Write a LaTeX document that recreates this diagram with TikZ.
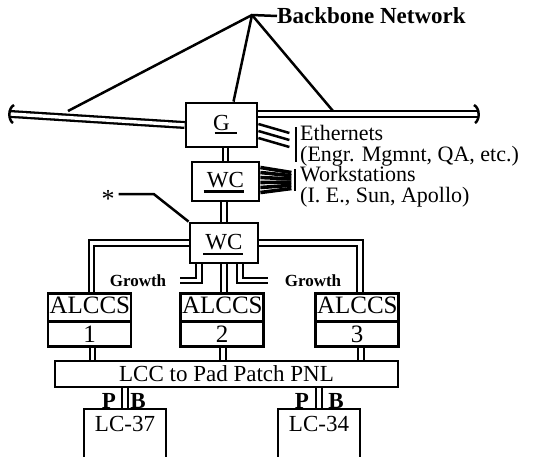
\documentclass[tikz,border=0pt]{standalone}
\usepackage{fontspec}
\setmainfont{Liberation Serif}
\usetikzlibrary{shapes,positioning}

\begin{document}
\begin{tikzpicture}[x=1pt,y=-1pt,
every node/.style={font=\fontsize{23}{20}\selectfont, inner sep=0pt},
unitbox/.style={draw, line width=2.8pt},
alccsbox/.style={unitbox, rectangle split, rectangle split parts=2, minimum width=83, text width=80, align=center, text height=16, text depth=3, inner ysep=3, font=\fontsize{25}{20}\selectfont},
lcbox/.style={unitbox, minimum width=82, text height=19, text depth=45, inner ysep=3},
link/.style={double, line width=2.1pt, double distance=3.2pt},
wire/.style={line width=2.5pt},
uline/.style={line width=2.8pt},
sidetext/.style={font=\fontsize{22}{21}\selectfont, anchor=north west, align=left},
tag/.style={font=\fontsize{23}{20}\selectfont\bfseries},
growthtag/.style={font=\fontsize{17}{17}\selectfont\bfseries},
]
\useasboundingbox (0,0) rectangle (535,456);
\clip (0,0) rectangle (535,456);

%Nodes
\node[unitbox, minimum width=71, minimum height=44, text depth=4](G) at (221.5,125){G};
\node[unitbox, minimum width=67, minimum height=39, text depth=4](WCa) at (225.5,181.5){WC};
\node[unitbox, minimum width=68, minimum height=40, text depth=2](WCb) at (224,243){WC};
\node[alccsbox](A1) at (89.5,320){ALCCS\nodepart{two}1};
\node[alccsbox](A2) at (222,320){ALCCS\nodepart{two}2};
\node[alccsbox](A3) at (357,320){ALCCS\nodepart{two}3};
\node[unitbox, minimum width=343, minimum height=26](LCC) at (226.5,374){LCC to Pad Patch PNL};
\node[lcbox](LC37) at (125,444){LC-37};
\node[lcbox](LC34) at (319,444){LC-34};

\node[tag, anchor=west](BN) at (277,16){Backbone Network};
\node[sidetext](Eth) at (300,125){Ethernets\\(Engr. Mgmnt, QA, etc.)};
\node[sidetext](WS) at (300,166){Workstations\\(I. E., Sun, Apollo)};
\node[font=\fontsize{26}{20}\selectfont](star) at (108,199){*};
\node[growthtag](GrowL) at (138,281){Growth};
\node[growthtag](GrowR) at (313,281){Growth};
\node[tag, anchor=base](P37) at (109,408){P};
\node[tag, anchor=base](B37) at (138,408){B};
\node[tag, anchor=base](P34) at (302,408){P};
\node[tag, anchor=base](B34) at (336,408){B};

\coordinate (apex) at (252,15);
\coordinate (bbW) at (11,114);
\coordinate (bbE) at (477,114);
\coordinate (bbA) at (68,111);
\coordinate (bbB) at (333,111);
\coordinate (growW) at (180,280.5);
\coordinate (growE) at (268,280.5);

%Backbone
\draw[link, line width=2.3pt, double distance=3.4pt] (bbW) -- (G.west);
\draw[link, line width=2.3pt, double distance=3.4pt] (G.east |- bbE) -- (bbE);
\draw[wire] (14,105) .. controls (8,108) and (8,120) .. (13,123);
\draw[wire] (474,105) .. controls (480,108) and (480,120) .. (475,123);
\draw[wire] (BN.west) -- (apex) -- (bbA);
\draw[wire] (apex) -- ([shift={(12,0)}]G.north);
\draw[wire] (apex) -- (bbB);

%Underlines
\draw[uline] ([shift={(-7,8)}]G.center) -- ([shift={(15,8)}]G.center);
\draw[uline] ([shift={(-22,10)}]WCa.center) -- ([shift={(18,10)}]WCa.center);
\draw[uline] ([shift={(-21,11)}]WCb.center) -- ([shift={(19,11)}]WCb.center);

%Ethernets and workstations
\foreach \i in {0,1,2}
  \draw[wire] ([shift={(0,-1+7*\i)}]G.east) -- ++(31,9);
\draw[wire] ([shift={(-4,2)}]Eth.north west) -- ([shift={(-4,-4)}]Eth.south west);
\foreach \i in {0,...,5}
  \draw[line width=3.6pt] ([shift={(0,-14+5*\i)}]WCa.east) -- ++(31,5-1.8*\i);
\draw[wire] ([shift={(-5,3)}]WS.north west) -- ++(0,22);

%Star
\draw[wire] ([shift={(4,-5)}]star.east) -- ++(35,0) -- (WCb.north west);

%Lines
\draw[link] (G.south -| WCa.north) -- (WCa.north);
\draw[link] (WCb.north |- WCa.south) -- (WCb.north);
\draw[link] (WCb.west) -| ([shift={(2,0)}]A1.north);
\draw[link] (WCb.east) -| ([shift={(3,0)}]A3.north);
\draw[link] (WCb.south) -- (WCb.south |- A2.north);
\draw[link] ([shift={(-25,0)}]WCb.south) |- (growW);
\draw[link] ([shift={(16,0)}]WCb.south) |- (growE);
\foreach \a/\d in {A1/3,A2/1,A3/4}
  \draw[link] ([shift={(\d,0)}]\a.south) -- ([shift={(\d,0)}]\a.south |- LCC.north);
\draw[link] (LC37.north |- LCC.south) -- (LC37.north);
\draw[link] (LC34.north |- LCC.south) -- (LC34.north);
\end{tikzpicture}
\end{document}
